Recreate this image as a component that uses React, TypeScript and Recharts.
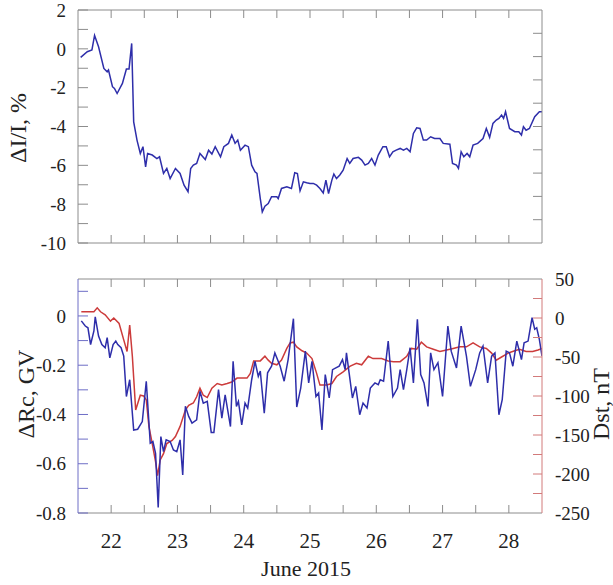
import React from "react";
import { LineChart, Line, XAxis, YAxis } from "recharts";

// ΔI/I, % (upper panel)
const topDays = [
  21.54, 21.64, 21.71, 21.75, 21.81, 21.89, 21.94, 21.96, 22.02, 22.05,
  22.09, 22.17, 22.23, 22.27, 22.31, 22.34, 22.39, 22.44, 22.48, 22.52,
  22.55, 22.62, 22.69, 22.73, 22.79, 22.84, 22.89, 22.97, 23.04, 23.1,
  23.16, 23.2, 23.24, 23.29, 23.34, 23.42, 23.47, 23.52, 23.57, 23.65,
  23.7, 23.77, 23.82, 23.87, 23.91, 23.95, 24.02, 24.07, 24.12, 24.17,
  24.2, 24.25, 24.28, 24.32, 24.37, 24.42, 24.5, 24.52, 24.57, 24.65,
  24.72, 24.77, 24.81, 24.85, 24.9, 24.95, 25.0, 25.05, 25.1, 25.15,
  25.2, 25.24, 25.28, 25.33, 25.36, 25.4, 25.45, 25.5, 25.56, 25.6,
  25.65, 25.73, 25.78, 25.83, 25.88, 25.93, 25.98, 26.03, 26.1, 26.15,
  26.2, 26.25, 26.3, 26.36, 26.41, 26.46, 26.51, 26.56, 26.61, 26.66,
  26.71, 26.76, 26.82, 26.88, 26.96, 27.01, 27.11, 27.15, 27.21, 27.24,
  27.28, 27.32, 27.37, 27.41, 27.46, 27.53, 27.61, 27.66, 27.71, 27.76,
  27.81, 27.85, 27.89, 27.92, 27.95, 28.01, 28.09, 28.15, 28.19, 28.22,
  28.26, 28.31, 28.39, 28.46, 28.5,
];
const topValues = [
  -0.44, -0.15, -0.06, 0.69, 0.11, -1.01, -1.18, -1.09, -1.95, -2.04,
  -2.3, -1.78, -1.04, -1.04, 0.28, -3.76, -4.7, -5.39, -5.04, -6.08,
  -5.39, -5.47, -5.65, -5.56, -6.42, -6.16, -6.68, -6.16, -6.42, -7.02,
  -7.36, -6.16, -5.99, -5.9, -5.39, -5.7, -5.22, -5.42, -5.04, -5.56,
  -5.04, -4.87, -4.44, -4.87, -4.7, -5.22, -4.96, -5.04, -5.99, -6.33,
  -6.42, -7.71, -8.4, -8.1, -7.97, -7.62, -7.62, -7.71, -7.19, -7.11,
  -7.19, -6.38, -6.42, -7.31, -6.85, -6.9, -6.93, -6.93, -7.02, -7.19,
  -7.42, -6.76, -7.45, -6.76, -6.45, -6.68, -6.5, -6.25, -5.65, -5.9,
  -5.65, -5.59, -5.73, -5.99, -5.9, -5.65, -5.99, -5.47, -5.04, -5.04,
  -5.56, -5.3, -5.22, -5.13, -5.22, -5.13, -5.3, -4.36, -4.07, -4.1,
  -4.7, -4.7, -4.53, -4.62, -4.62, -4.87, -4.91, -5.9, -5.99, -6.16,
  -5.3, -5.56, -5.39, -5.56, -4.96, -4.87, -4.62, -4.1, -4.56, -3.84,
  -3.67, -3.58, -3.41, -3.58, -3.24, -4.1, -4.27, -4.27, -4.44, -4.01,
  -4.19, -4.1, -3.5, -3.24, -3.24,
];

// Dst, nT (lower panel, red)
const dstDays = [
  21.55, 21.69, 21.74, 21.79, 21.84, 21.91, 21.99, 22.04, 22.12, 22.19,
  22.24, 22.28, 22.32, 22.37, 22.44, 22.49, 22.53, 22.57, 22.62, 22.67,
  22.7, 22.74, 22.79, 22.84, 22.92, 22.97, 23.04, 23.12, 23.17, 23.24,
  23.29, 23.34, 23.39, 23.45, 23.52, 23.6, 23.67, 23.75, 23.82, 23.9,
  24.05, 24.1, 24.15, 24.25, 24.32, 24.37, 24.42, 24.5, 24.57, 24.65,
  24.7, 24.75, 24.8, 24.88, 24.95, 25.03, 25.1, 25.15, 25.25, 25.33,
  25.4, 25.5, 25.6, 25.7, 25.78, 25.88, 25.95, 26.08, 26.18, 26.26,
  26.36, 26.46, 26.53, 26.61, 26.68, 26.76, 26.86, 26.96, 27.06, 27.16,
  27.26, 27.36, 27.46, 27.56, 27.66, 27.74, 27.81, 27.89, 27.99, 28.09,
  28.16, 28.26, 28.36, 28.44, 28.5,
];
const dstValues = [
  8, 8, 8, 13, 8, 4, -4, 0, -7, -28,
  -43, -9, -49, -118, -99, -100, -105, -139, -161, -184,
  -202, -182, -174, -161, -157, -152, -139, -118, -112, -109,
  -101, -90, -99, -102, -90, -84, -86, -84, -82, -77,
  -77, -71, -55, -55, -49, -54, -58, -60, -54, -39,
  -32, -31, -37, -42, -45, -52, -71, -86, -86, -84,
  -75, -69, -62, -58, -60, -49, -52, -52, -55, -56,
  -56, -49, -39, -40, -31, -37, -40, -43, -41, -39,
  -37, -37, -32, -37, -39, -45, -54, -50, -45, -42,
  -40, -43, -43, -41, -39,
];

// ΔRc, GV (lower panel, blue)
const rcDays = [
  21.55, 21.61, 21.65, 21.69, 21.74, 21.76, 21.81, 21.86, 21.91, 21.94,
  21.98, 22.03, 22.07, 22.1, 22.15, 22.19, 22.23, 22.28, 22.34, 22.4,
  22.47, 22.53, 22.59, 22.63, 22.67, 22.71, 22.75, 22.79, 22.83, 22.89,
  22.94, 22.99, 23.04, 23.08, 23.12, 23.17, 23.22, 23.29, 23.34, 23.39,
  23.45, 23.51, 23.55, 23.62, 23.67, 23.72, 23.8, 23.84, 23.89, 23.92,
  23.97, 24.02, 24.06, 24.12, 24.17, 24.22, 24.25, 24.31, 24.36, 24.42,
  24.47, 24.55, 24.61, 24.67, 24.75, 24.8, 24.86, 24.93, 24.98, 25.03,
  25.09, 25.13, 25.18, 25.23, 25.29, 25.34, 25.39, 25.44, 25.49, 25.53,
  25.55, 25.59, 25.64, 25.69, 25.75, 25.8, 25.86, 25.91, 25.98, 26.03,
  26.06, 26.11, 26.18, 26.25, 26.32, 26.36, 26.41, 26.46, 26.51, 26.56,
  26.62, 26.67, 26.72, 26.78, 26.82, 26.87, 26.93, 27.0, 27.08, 27.13,
  27.21, 27.28, 27.36, 27.42, 27.5, 27.56, 27.61, 27.68, 27.74, 27.79,
  27.85, 27.9, 27.96, 28.01, 28.06, 28.12, 28.19, 28.23, 28.29, 28.35,
  28.39, 28.42, 28.46, 28.5,
];
const rcValues = [
  -0.02, -0.041, -0.048, -0.116, -0.061, -0.004, -0.082, -0.116, -0.129, -0.088,
  -0.17, -0.116, -0.102, -0.116, -0.129, -0.163, -0.327, -0.259, -0.463, -0.46,
  -0.429, -0.265, -0.517, -0.51, -0.558, -0.778, -0.49, -0.551, -0.503, -0.51,
  -0.544, -0.551, -0.503, -0.646, -0.367, -0.408, -0.435, -0.422, -0.306, -0.354,
  -0.347, -0.473, -0.473, -0.299, -0.415, -0.32, -0.449, -0.184, -0.367, -0.347,
  -0.442, -0.354, -0.374, -0.259, -0.184, -0.245, -0.224, -0.395, -0.231, -0.204,
  -0.15, -0.204, -0.265, -0.177, -0.011, -0.37, -0.293, -0.143, -0.272, -0.184,
  -0.327, -0.313, -0.463, -0.238, -0.333, -0.218, -0.211, -0.204, -0.177, -0.218,
  -0.15, -0.231, -0.333, -0.286, -0.401, -0.354, -0.374, -0.293, -0.272, -0.279,
  -0.259, -0.265, -0.102, -0.327, -0.293, -0.218, -0.299, -0.218, -0.129, -0.272,
  -0.014, -0.238, -0.272, -0.367, -0.15, -0.218, -0.19, -0.327, -0.041, -0.143,
  -0.211, -0.041, -0.163, -0.286, -0.218, -0.15, -0.122, -0.272, -0.163, -0.15,
  -0.401, -0.34, -0.143, -0.15, -0.204, -0.102, -0.177, -0.109, -0.102, -0.007,
  -0.054, -0.048, -0.095, -0.163,
];

const dayLabels = [22, 23, 24, 25, 26, 27, 28];
const dayTicks = [22, 22.5, 23, 23.5, 24, 24.5, 25, 25.5, 26, 26.5, 27, 27.5, 28];
const topLabelTicks = [-10, -8, -6, -4, -2, 0, 2];
const topTicks = [-10, -9, -8, -7, -6, -5, -4, -3, -2, -1, 0, 1, 2];
const topRightTicks = [1, 2, 3, 4, 5, 6, 7, 8, 9];
const rcLabelTicks = [-0.8, -0.6, -0.4, -0.2, 0];
const rcTicks = [-0.8, -0.7, -0.6, -0.5, -0.4, -0.3, -0.2, -0.1, 0, 0.1];
const dstLabelTicks = [-250, -200, -150, -100, -50, 0, 50];
const dstTicks = [-225, -200, -175, -150, -125, -100, -75, -50, -25, 0, 25];

const topData = topDays.map((d, i) => ({ day: d, v: topValues[i] }));
const dstData = dstDays.map((d, i) => ({ day: d, v: dstValues[i] }));
const rcData = rcDays.map((d, i) => ({ day: d, v: rcValues[i] }));

const FONT = "Liberation Serif, Times New Roman, serif";
const tickStyle = { fill: "#222", fontSize: 19, fontFamily: FONT };
const xTickStyle = { fill: "#222", fontSize: 21, fontFamily: FONT };
const GRAY = "#8c8c8c";
const BLUE = "#2e2eaa";
const RED = "#cc3b3b";
const X_DOMAIN = [21.5, 28.5];

// tick lines only, no text
const noText = () => <g />;

const yLabel = (left: number, top: number, text: string) => (
  <div
    style={{
      position: "absolute",
      left,
      top,
      transform: "translate(-50%, -50%) rotate(-90deg)",
      whiteSpace: "nowrap",
      fontFamily: FONT,
      fontSize: 24,
      color: "#222",
      lineHeight: "24px",
    }}
  >
    {text}
  </div>
);

export default function App() {
  return (
    <div
      style={{
        position: "absolute",
        left: 0,
        top: 0,
        width: 613,
        height: 585,
        background: "#fff",
        overflow: "hidden",
      }}
    >
      <div style={{ position: "absolute", left: 0, top: 0 }}>
        <LineChart width={613} height={260} margin={{ top: 10, right: 71, bottom: 17, left: 0 }}>
          <XAxis xAxisId="xb" type="number" dataKey="day" domain={X_DOMAIN} allowDataOverflow
            ticks={dayTicks} interval={0} mirror height={1} tick={noText} tickSize={8} stroke={GRAY} />
          <XAxis xAxisId="xt" orientation="top" type="number" dataKey="day" domain={X_DOMAIN} allowDataOverflow
            ticks={dayTicks} interval={0} mirror height={1} tick={noText} tickSize={8} stroke={GRAY} />
          <YAxis yAxisId="lab" type="number" domain={[-10, 2]} allowDataOverflow ticks={topLabelTicks} interval={0}
            width={78} axisLine={false} tickLine={false} tickSize={0} tickMargin={12} tick={tickStyle} />
          <YAxis yAxisId="t" type="number" domain={[-10, 2]} allowDataOverflow ticks={topTicks} interval={0}
            mirror width={1} tick={noText} tickSize={10} stroke={GRAY} />
          <YAxis yAxisId="r" orientation="right" type="number" domain={[0, 10]} allowDataOverflow
            ticks={topRightTicks} interval={0} mirror width={1} tick={noText} tickSize={9} stroke={GRAY} />
          <Line xAxisId="xb" yAxisId="t" data={topData} dataKey="v" type="linear" stroke={BLUE}
            strokeWidth={1.5} dot={false} isAnimationActive={false} />
        </LineChart>
      </div>

      <div style={{ position: "absolute", left: 0, top: 262 }}>
        <LineChart width={613} height={323} margin={{ top: 17, right: 0, bottom: 42, left: 0 }}>
          <XAxis xAxisId="x" type="number" dataKey="day" domain={X_DOMAIN} allowDataOverflow
            ticks={dayLabels} interval={0} height={30} axisLine={false} tickLine={false} tickSize={0}
            tickMargin={20} tick={xTickStyle} />
          <XAxis xAxisId="xb" type="number" dataKey="day" domain={X_DOMAIN} allowDataOverflow
            ticks={dayTicks} interval={0} mirror height={1} tick={noText} tickSize={8} stroke={GRAY} />
          <XAxis xAxisId="xt" orientation="top" type="number" dataKey="day" domain={X_DOMAIN} allowDataOverflow
            ticks={dayTicks} interval={0} mirror height={1} tick={noText} tickSize={8} stroke={GRAY} />
          <YAxis yAxisId="rc" type="number" domain={[-0.8, 0.15]} allowDataOverflow ticks={rcLabelTicks} interval={0}
            width={78} axisLine={false} tickLine={false} tickSize={0} tickMargin={12} tick={tickStyle}
            tickFormatter={(v: number) => (v === 0 ? "0" : v.toFixed(1))} />
          <YAxis yAxisId="rcT" type="number" domain={[-0.8, 0.15]} allowDataOverflow ticks={rcTicks} interval={0}
            mirror width={1} tick={noText} tickSize={10} stroke="#6e6ec6" />
          <YAxis yAxisId="dst" orientation="right" type="number" domain={[-250, 50]} allowDataOverflow
            ticks={dstLabelTicks} interval={0} width={71} axisLine={false} tickLine={false} tickSize={0}
            tickMargin={13} tick={tickStyle} />
          <YAxis yAxisId="dstT" orientation="right" type="number" domain={[-250, 50]} allowDataOverflow
            ticks={dstTicks} interval={0} mirror width={1} tick={noText} tickSize={9} stroke="#d27a7a" />
          <Line xAxisId="x" yAxisId="dst" data={dstData} dataKey="v" type="linear" stroke={RED}
            strokeWidth={1.5} dot={false} isAnimationActive={false} />
          <Line xAxisId="x" yAxisId="rc" data={rcData} dataKey="v" type="linear" stroke={BLUE}
            strokeWidth={1.5} dot={false} isAnimationActive={false} />
        </LineChart>
      </div>

      {yLabel(18, 128, "ΔI/I, %")}
      {yLabel(26, 394, "ΔRc, GV")}
      {yLabel(601, 404, "Dst, nT")}
      <div
        style={{
          position: "absolute",
          left: 306,
          top: 558,
          transform: "translateX(-50%)",
          whiteSpace: "nowrap",
          fontFamily: FONT,
          fontSize: 22,
          lineHeight: "22px",
          color: "#222",
        }}
      >
        June 2015
      </div>
    </div>
  );
}
